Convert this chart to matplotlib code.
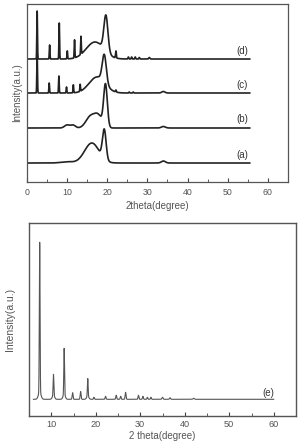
import numpy as np
import matplotlib
matplotlib.use("Agg")
import matplotlib.pyplot as plt
from matplotlib.ticker import MultipleLocator

plt.rcParams['font.family'] = ['Liberation Sans', 'DejaVu Sans']

# ---- Top panel data: peak lists (center 2theta, height, width sigma) ----
labels_top = ["(a)", "(b)", "(c)", "(d)"]
baselines_top = [19, 54, 89, 123]
peaks_a = [(16.2, 20, 1.8), (19.3, 29.5, 0.45), (10.0, 1.2, 1.5), (34.0, 2.0, 0.5)]
peaks_b = [(15.8, 11, 1.1), (17.8, 12, 1.0), (19.6, 42, 0.45), (10.0, 3, 0.6),
           (11.5, 3, 0.6), (34.0, 1.5, 0.5)]
peaks_c = [(17.5, 16, 2.0), (19.3, 28, 0.5), (2.6, 40, 0.08), (5.6, 10, 0.08),
           (8.0, 17, 0.08), (9.9, 6, 0.08), (11.6, 8, 0.08), (13.3, 7, 0.08),
           (22.2, 2, 0.1), (25.5, 1, 0.1), (26.5, 1, 0.1), (34.0, 1.5, 0.4)]
peaks_d = [(17.0, 17, 2.2), (19.7, 36, 0.5), (2.6, 48, 0.08), (5.7, 14, 0.08),
           (8.1, 36, 0.08), (10.1, 8, 0.08), (11.9, 18, 0.08), (13.5, 18, 0.08),
           (22.2, 7, 0.1), (25.3, 2, 0.1), (26.1, 2, 0.1), (27.0, 2, 0.1),
           (28.0, 1.5, 0.1), (30.5, 1.5, 0.15)]
peaks_top = [peaks_a, peaks_b, peaks_c, peaks_d]
top_range = (0.5, 55.5)

# ---- Bottom panel data (e) ----
label_e = "(e)"
baseline_e = 16.7
peaks_e = [(7.4, 150, 0.08), (7.4, 7, 0.3), (10.5, 21, 0.08), (10.5, 4, 0.25),
           (12.9, 46, 0.08), (12.9, 5, 0.25), (14.8, 6.6, 0.1), (16.6, 7.7, 0.1),
           (18.2, 17.7, 0.08), (18.2, 3, 0.25), (19.6, 2, 0.1), (22.2, 3, 0.1),
           (24.6, 4, 0.1), (25.6, 3, 0.1), (26.7, 7, 0.1), (29.6, 4, 0.1),
           (30.6, 3, 0.1), (31.6, 2, 0.1), (32.4, 2, 0.1), (35.0, 2, 0.12),
           (36.7, 1.5, 0.12), (42.0, 1, 0.15)]
bottom_range = (6.0, 60.0)


def profile(x, base, peaks):
    y = np.full_like(x, base, dtype=float)
    for c, h, s in peaks:
        y += h * np.exp(-(x - c) ** 2 / (2 * s * s))
    return y


W, H = 298, 443
fig = plt.figure(figsize=(W / 100, H / 100), dpi=100)
gray = "#555555"
fs = 6.3

# Top axes
ax1 = fig.add_axes([26.7 / W, 1 - 182 / H, (288 - 26.7) / W, (182 - 4) / H])
x = np.arange(top_range[0], top_range[1], 0.02)
for lab, base, pk in zip(labels_top, baselines_top, peaks_top):
    ax1.plot(x, profile(x, base, pk), color="#222222", lw=1.2)
    ax1.text(55, base + 3.5, lab, ha="right", va="bottom", fontsize=7, color="#333333")
ax1.set_xlim(0, 65)
ax1.set_ylim(0, 178)
ax1.set_yticks([])
ax1.xaxis.set_major_locator(MultipleLocator(10))
ax1.xaxis.set_minor_locator(MultipleLocator(5))
ax1.tick_params(axis="x", which="both", direction="in", labelsize=fs, labelcolor=gray,
                color="#444444", pad=4)
ax1.tick_params(axis="x", which="major", length=3)
ax1.tick_params(axis="x", which="minor", length=2)
ax1.set_xlabel("2theta(degree)", fontsize=7, color=gray, labelpad=3)
ax1.set_ylabel("Intensity(a.u.)", fontsize=7, color=gray, labelpad=3)
for sp in ax1.spines.values():
    sp.set_color("#555555")
    sp.set_linewidth(0.9)

# Bottom axes
ax2 = fig.add_axes([29 / W, 1 - 416 / H, (296 - 29) / W, (416 - 222.7) / H])
x2 = np.arange(bottom_range[0], bottom_range[1], 0.01)
ax2.plot(x2, profile(x2, baseline_e, peaks_e), color="#555555", lw=0.8)
ax2.text(58.8, 22.5, label_e, ha="center", va="center", fontsize=7, color="#333333")
ax2.set_xlim(5, 65)
ax2.set_ylim(0, 193.3)
ax2.set_yticks([])
ax2.xaxis.set_major_locator(MultipleLocator(10))
ax2.xaxis.set_minor_locator(MultipleLocator(5))
ax2.set_xticks([10, 20, 30, 40, 50, 60])
ax2.tick_params(axis="x", which="both", direction="in", labelsize=fs + 0.3, labelcolor=gray,
                color="#444444", pad=3)
ax2.tick_params(axis="x", which="major", length=3)
ax2.tick_params(axis="x", which="minor", length=2)
ax2.set_xlabel("2 theta(degree)", fontsize=7, color=gray, labelpad=1)
ax2.set_ylabel("Intensity(a.u.)", fontsize=7.5, color=gray, labelpad=10)
for sp in ax2.spines.values():
    sp.set_color("#555555")
    sp.set_linewidth(1.0)

fig.savefig("out.png", dpi=100)
